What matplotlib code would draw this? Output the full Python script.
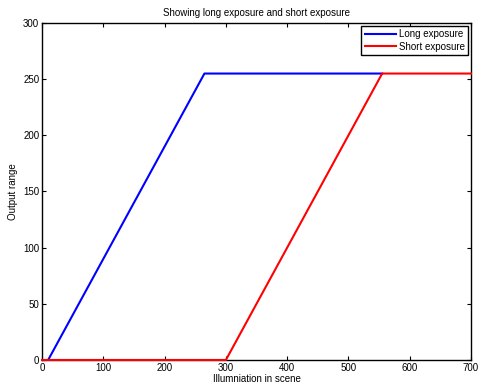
import matplotlib.pyplot as plt

plt.rcParams['font.family'] = ['Liberation Sans', 'DejaVu Sans']
plt.rcParams['font.size'] = 7

# piecewise response curves (illumination, output)
long_x = [10, 265, 555]
long_y = [0, 255, 255]
short_x = [0, 300, 555, 700]
short_y = [0, 0, 255, 255]

fig = plt.figure(figsize=(4.78, 3.87), dpi=100)
ax = fig.add_axes([0.0879, 0.0698, 0.8975, 0.8708])

ax.plot(long_x, long_y, color='#0000ff', linewidth=1.5, label='Long exposure')
ax.plot(short_x, short_y, color='#ff0000', linewidth=1.5, label='Short exposure',
        clip_on=False, zorder=3)

ax.set_xlim(0, 700)
ax.set_ylim(0, 300)
ax.set_xticks(range(0, 701, 100))
ax.set_yticks(range(0, 301, 50))
ax.tick_params(direction='in', top=True, right=True, length=3, pad=2, labelsize=7)
for s in ax.spines.values():
    s.set_linewidth(1.0)

ax.set_xlabel('Illumniation in scene', labelpad=1)
ax.set_ylabel('Output range', labelpad=4)
ax.set_title('Showing long exposure and short exposure', fontsize=7, pad=5)

leg = ax.legend(loc='upper right', fancybox=False, framealpha=1, edgecolor='black',
                borderaxespad=0.3, handlelength=3.2, handletextpad=0.3,
                borderpad=0.35, labelspacing=0.25)
leg.get_frame().set_linewidth(1.0)
leg.set_zorder(5)

plt.savefig('out.png', dpi=100)
